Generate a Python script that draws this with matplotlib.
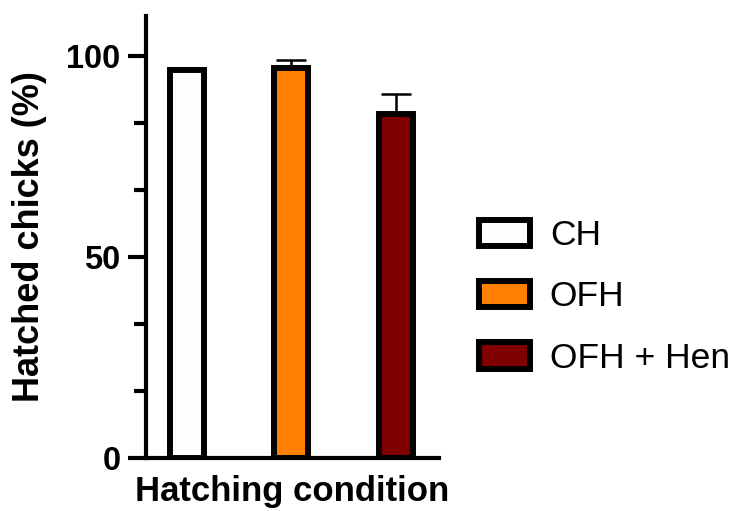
import numpy as np
import matplotlib
matplotlib.use("Agg")
import matplotlib.pyplot as plt
from matplotlib.patches import Patch
from matplotlib.ticker import MultipleLocator

plt.rcParams['font.family'] = ['Liberation Sans', 'DejaVu Sans']

# datos
condiciones = ["CH", "OFH", "OFH + Hen"]
eclosion = [96.5, 97.0, 85.5]
sem = [0.0, 2.0, 5.0]
colores = ["#FEFEFE", "#FF7F00", "#800000"]

W, H = 738, 511
fig = plt.figure(figsize=(W / 100, H / 100), dpi=100)

# ejes colocados en pixeles
x0, x1 = 145.7, 439
y0, y1 = 458, 16
ax = fig.add_axes([x0 / W, 1 - y0 / H, (x1 - x0) / W, (y0 - y1) / H])

x = np.arange(len(condiciones))
ax.errorbar(x, eclosion, yerr=[np.zeros(len(sem)), sem], fmt="none",
            ecolor="black", elinewidth=1.8, capsize=11, capthick=1.8, zorder=1)
ax.bar(x, eclosion, width=0.325, color=colores, edgecolor="black",
       linewidth=4.3, zorder=2)

ax.set_xlim(-0.39, 2.41)
ax.set_ylim(0, 110)
ax.set_xticks([])
ax.yaxis.set_major_locator(MultipleLocator(50))
ax.yaxis.set_minor_locator(MultipleLocator(50 / 3))
ax.set_yticks([0, 50, 100])
ax.tick_params(axis="y", which="major", length=13, width=3, pad=5, labelsize=23.5)
ax.tick_params(axis="y", which="minor", length=9, width=3)
for lbl in ax.get_yticklabels():
    lbl.set_fontweight("bold")

for s in ["top", "right"]:
    ax.spines[s].set_visible(False)
for s in ["left", "bottom"]:
    ax.spines[s].set_linewidth(3)
ax.spines["bottom"].set_zorder(3)

ax.set_ylabel("Hatched chicks (%)", fontsize=26, fontweight="bold", labelpad=14)
ax.set_xlabel("Hatching condition", fontsize=25, fontweight="bold", labelpad=12)

handles = [Patch(facecolor=c, edgecolor="black", linewidth=4.3) for c in colores]
fig.legend(handles, condiciones, loc="center left",
           bbox_to_anchor=(479 / W, 1 - 297 / H), frameon=False, fontsize=25.5,
           handlelength=1.45, handleheight=0.78, handletextpad=0.55,
           labelspacing=0.8, borderpad=0, borderaxespad=0)

fig.savefig("out.png", dpi=100)
